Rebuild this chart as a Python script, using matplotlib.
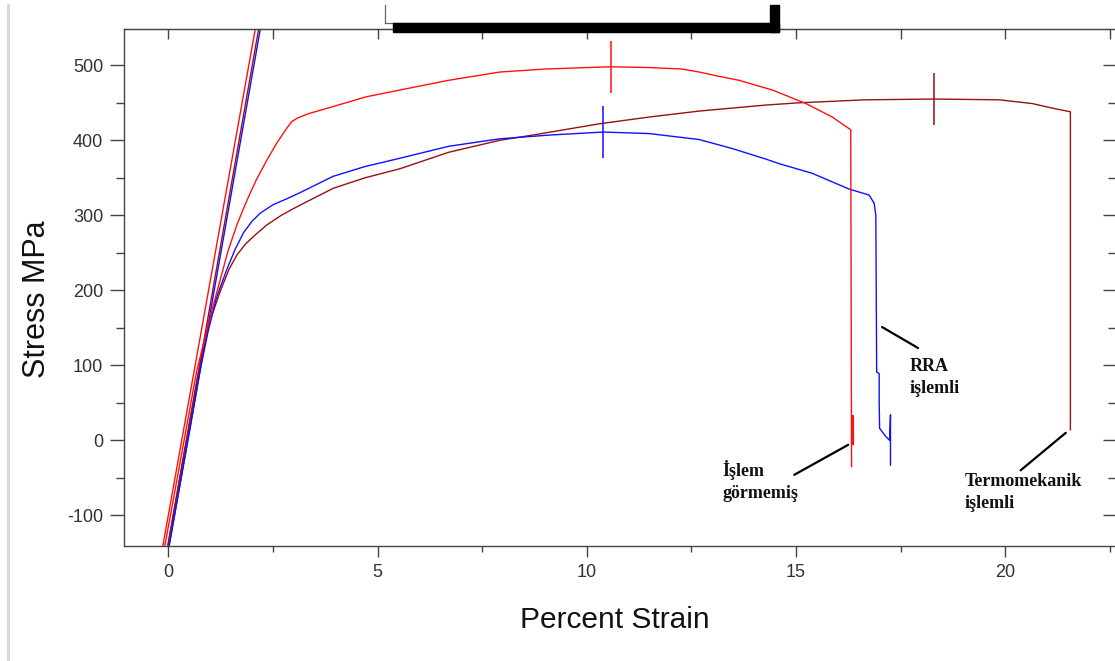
import matplotlib
matplotlib.use("Agg")
import matplotlib.pyplot as plt
from matplotlib.patches import Rectangle
from matplotlib.lines import Line2D
from matplotlib.ticker import MultipleLocator

plt.rcParams['font.family'] = ['Liberation Sans', 'DejaVu Sans']
plt.rcParams['axes.unicode_minus'] = False

# Işlem görmemiş (red)
red_strain = [-0.08, 0.30, 0.68, 1.05, 1.43, 1.65, 1.88, 2.1, 2.35, 2.6, 2.83, 2.95, 3.1,
              3.38, 3.94, 4.73, 5.53, 6.7, 7.92, 9.0, 10.0, 10.58, 11.5, 12.28, 12.69,
              13.1, 13.64, 14.44, 15.24, 15.87, 16.31, 16.33]
red_stress = [-140, -24, 93, 175, 253, 289, 320, 347, 373, 397, 416, 425, 430,
              436, 445, 458, 467, 480, 491, 495, 497, 498, 497, 495, 491,
              486, 480, 467, 449, 431, 414, -35]
red_break_strain = [16.33, 16.33]
red_break_stress = [33, -4]

# RRA işlemli (blue)
blue_strain = [0.02, 0.52, 0.76, 0.95, 1.15, 1.4, 1.6, 1.8, 2.0, 2.2, 2.5, 2.83, 3.14,
               3.94, 4.7, 5.53, 6.7, 7.92, 9.11, 10.4, 11.49, 12.69, 13.48, 14.28,
               14.59, 15.39, 16.27, 16.75, 16.87, 16.91, 16.92, 16.93, 16.99, 16.99,
               17.0, 17.15, 17.24, 17.26, 17.26]
blue_stress = [-140, 16, 93, 145, 190, 228, 255, 277, 292, 303, 314, 322, 330,
               352, 365, 376, 392, 402, 407, 411, 409, 401, 389, 375,
               369, 356, 335, 327, 316, 300, 194, 91, 89, 52,
               16, 5, 0, 34, -33]

# Termomekanik işlemli (dark red)
dred_strain = [-0.01, 0.40, 0.72, 1.0, 1.25, 1.45, 1.65, 1.85, 2.1, 2.35, 2.7, 3.06, 3.94,
               4.7, 5.53, 6.7, 7.92, 8.71, 10.3, 11.49, 12.69, 14.28, 15.07, 16.67,
               18.3, 19.85, 20.65, 21.12, 21.56, 21.56]
dred_stress = [-140, -10, 90, 160, 200, 228, 248, 262, 275, 287, 300, 311, 336,
               350, 362, 384, 400, 407, 422, 431, 439, 447, 450, 454,
               455, 454, 449, 443, 438, 14]

# elastic modulus lines
fit_strain = {'red': [-0.144, 2.10], 'dred': [-0.024, 2.18], 'blue': [0.006, 2.22]}
fit_stress = [-145, 555]

# ultimate tensile strength marks
uts_strain = [10.58, 10.40, 18.3]
uts_stress = [498, 411, 455]

label_text = ['RRA\nişlemli', 'İşlem\ngörmemiş', 'Termomekanik\nişlemli']
label_pos = [(17.72, 84), (13.24, -54), (19.04, -70)]
leader_from = [(17.06, 151), (14.96, -46), (20.37, -40)]
leader_to = [(17.92, 123), (16.25, -6), (21.45, 10)]

RED = '#ff1010'
BLUE = '#1010ff'
DRED = '#991010'
colors = {'red': RED, 'dred': DRED, 'blue': BLUE}

W, H = 1115, 661
fig = plt.figure(figsize=(W / 100, H / 100), dpi=100)
ax = fig.add_axes([124 / W, (H - 545.7) / H, (1116 - 124) / W, (545.7 - 28.7) / H])

for key in ['red', 'dred', 'blue']:
    ax.plot(fit_strain[key], fit_stress, color=colors[key], lw=1.0)

ax.plot(dred_strain, dred_stress, color=DRED, lw=1.0)
ax.plot(blue_strain, blue_stress, color=BLUE, lw=1.0)
ax.plot(red_strain, red_stress, color=RED, lw=1.0)
ax.plot(red_break_strain, red_break_stress, color=RED, lw=2.2)

for xs, ys, c in zip(uts_strain, uts_stress, [RED, BLUE, DRED]):
    ax.plot([xs], [ys], marker='|', markersize=37, markeredgewidth=1.1, color=c)

for (x0, y0), (x1, y1) in zip(leader_from, leader_to):
    ax.annotate('', xy=(x1, y1), xytext=(x0, y0),
                arrowprops=dict(arrowstyle='-', lw=1.6, color='black',
                                shrinkA=0, shrinkB=0))

for txt, (tx, ty) in zip(label_text, label_pos):
    ax.text(tx, ty, txt, family=['Liberation Serif', 'DejaVu Serif'], weight='bold',
            fontsize=13, ha='left', va='center', color='#111111', linespacing=1.4)

ax.set_xlim(-1.059, 22.65)
ax.set_ylim(-140.5, 548.8)

spine_c = '#444444'
for s in ax.spines.values():
    s.set_color(spine_c)
    s.set_linewidth(1.0)

ax.xaxis.set_major_locator(MultipleLocator(5))
ax.xaxis.set_minor_locator(MultipleLocator(2.5))
ax.yaxis.set_major_locator(MultipleLocator(100))
ax.yaxis.set_minor_locator(MultipleLocator(50))
ax.tick_params(which='major', direction='out', length=8, width=1.0, color=spine_c,
               labelsize=13, labelcolor='#333333', pad=5)
ax.tick_params(which='minor', direction='out', length=4.5, width=1.0, color=spine_c)
ax.tick_params(axis='y', which='major', length=10)
ax.tick_params(axis='y', which='minor', length=6)

top = ax.secondary_xaxis('top')
top.xaxis.set_major_locator(MultipleLocator(2.5))
top.tick_params(direction='in', length=7.5, width=1.0, color=spine_c, labeltop=False)
top.spines['top'].set_color(spine_c)

right = ax.secondary_yaxis('right')
right.yaxis.set_major_locator(MultipleLocator(100))
right.yaxis.set_minor_locator(MultipleLocator(50))
right.tick_params(which='major', direction='in', length=9.5, width=1.0, color=spine_c,
                  labelright=False)
right.tick_params(which='minor', direction='in', length=6, width=1.0, color=spine_c)

fig.text(37 / W, 1 - 299 / H, 'Stress MPa', rotation=90, ha='center', va='center',
         fontsize=22, color='#111111')
fig.text(615 / W, 1 - 620 / H, 'Percent Strain', ha='center', va='center',
         fontsize=21.5, color='#111111')

# left window border
fig.add_artist(Line2D([8 / W, 8 / W], [0, 1 - 5 / H], color='#d8d8d8', lw=2.2))

# remains of the legend box at the top
fig.add_artist(Line2D([385 / W, 385 / W], [1 - 5 / H, 1 - 23 / H], color='#666666', lw=0.9))
fig.add_artist(Line2D([385 / W, 770 / W], [1 - 23 / H, 1 - 23 / H], color='#666666', lw=0.9))
fig.add_artist(Rectangle((393 / W, 1 - 31.5 / H), (779 - 393) / W, 8.5 / H,
                         transform=fig.transFigure, color='black', zorder=5))
fig.add_artist(Rectangle((770 / W, 1 - 31.5 / H), 9 / W, 26.5 / H,
                         transform=fig.transFigure, color='black', zorder=5))

fig.savefig('out.png', dpi=100)
